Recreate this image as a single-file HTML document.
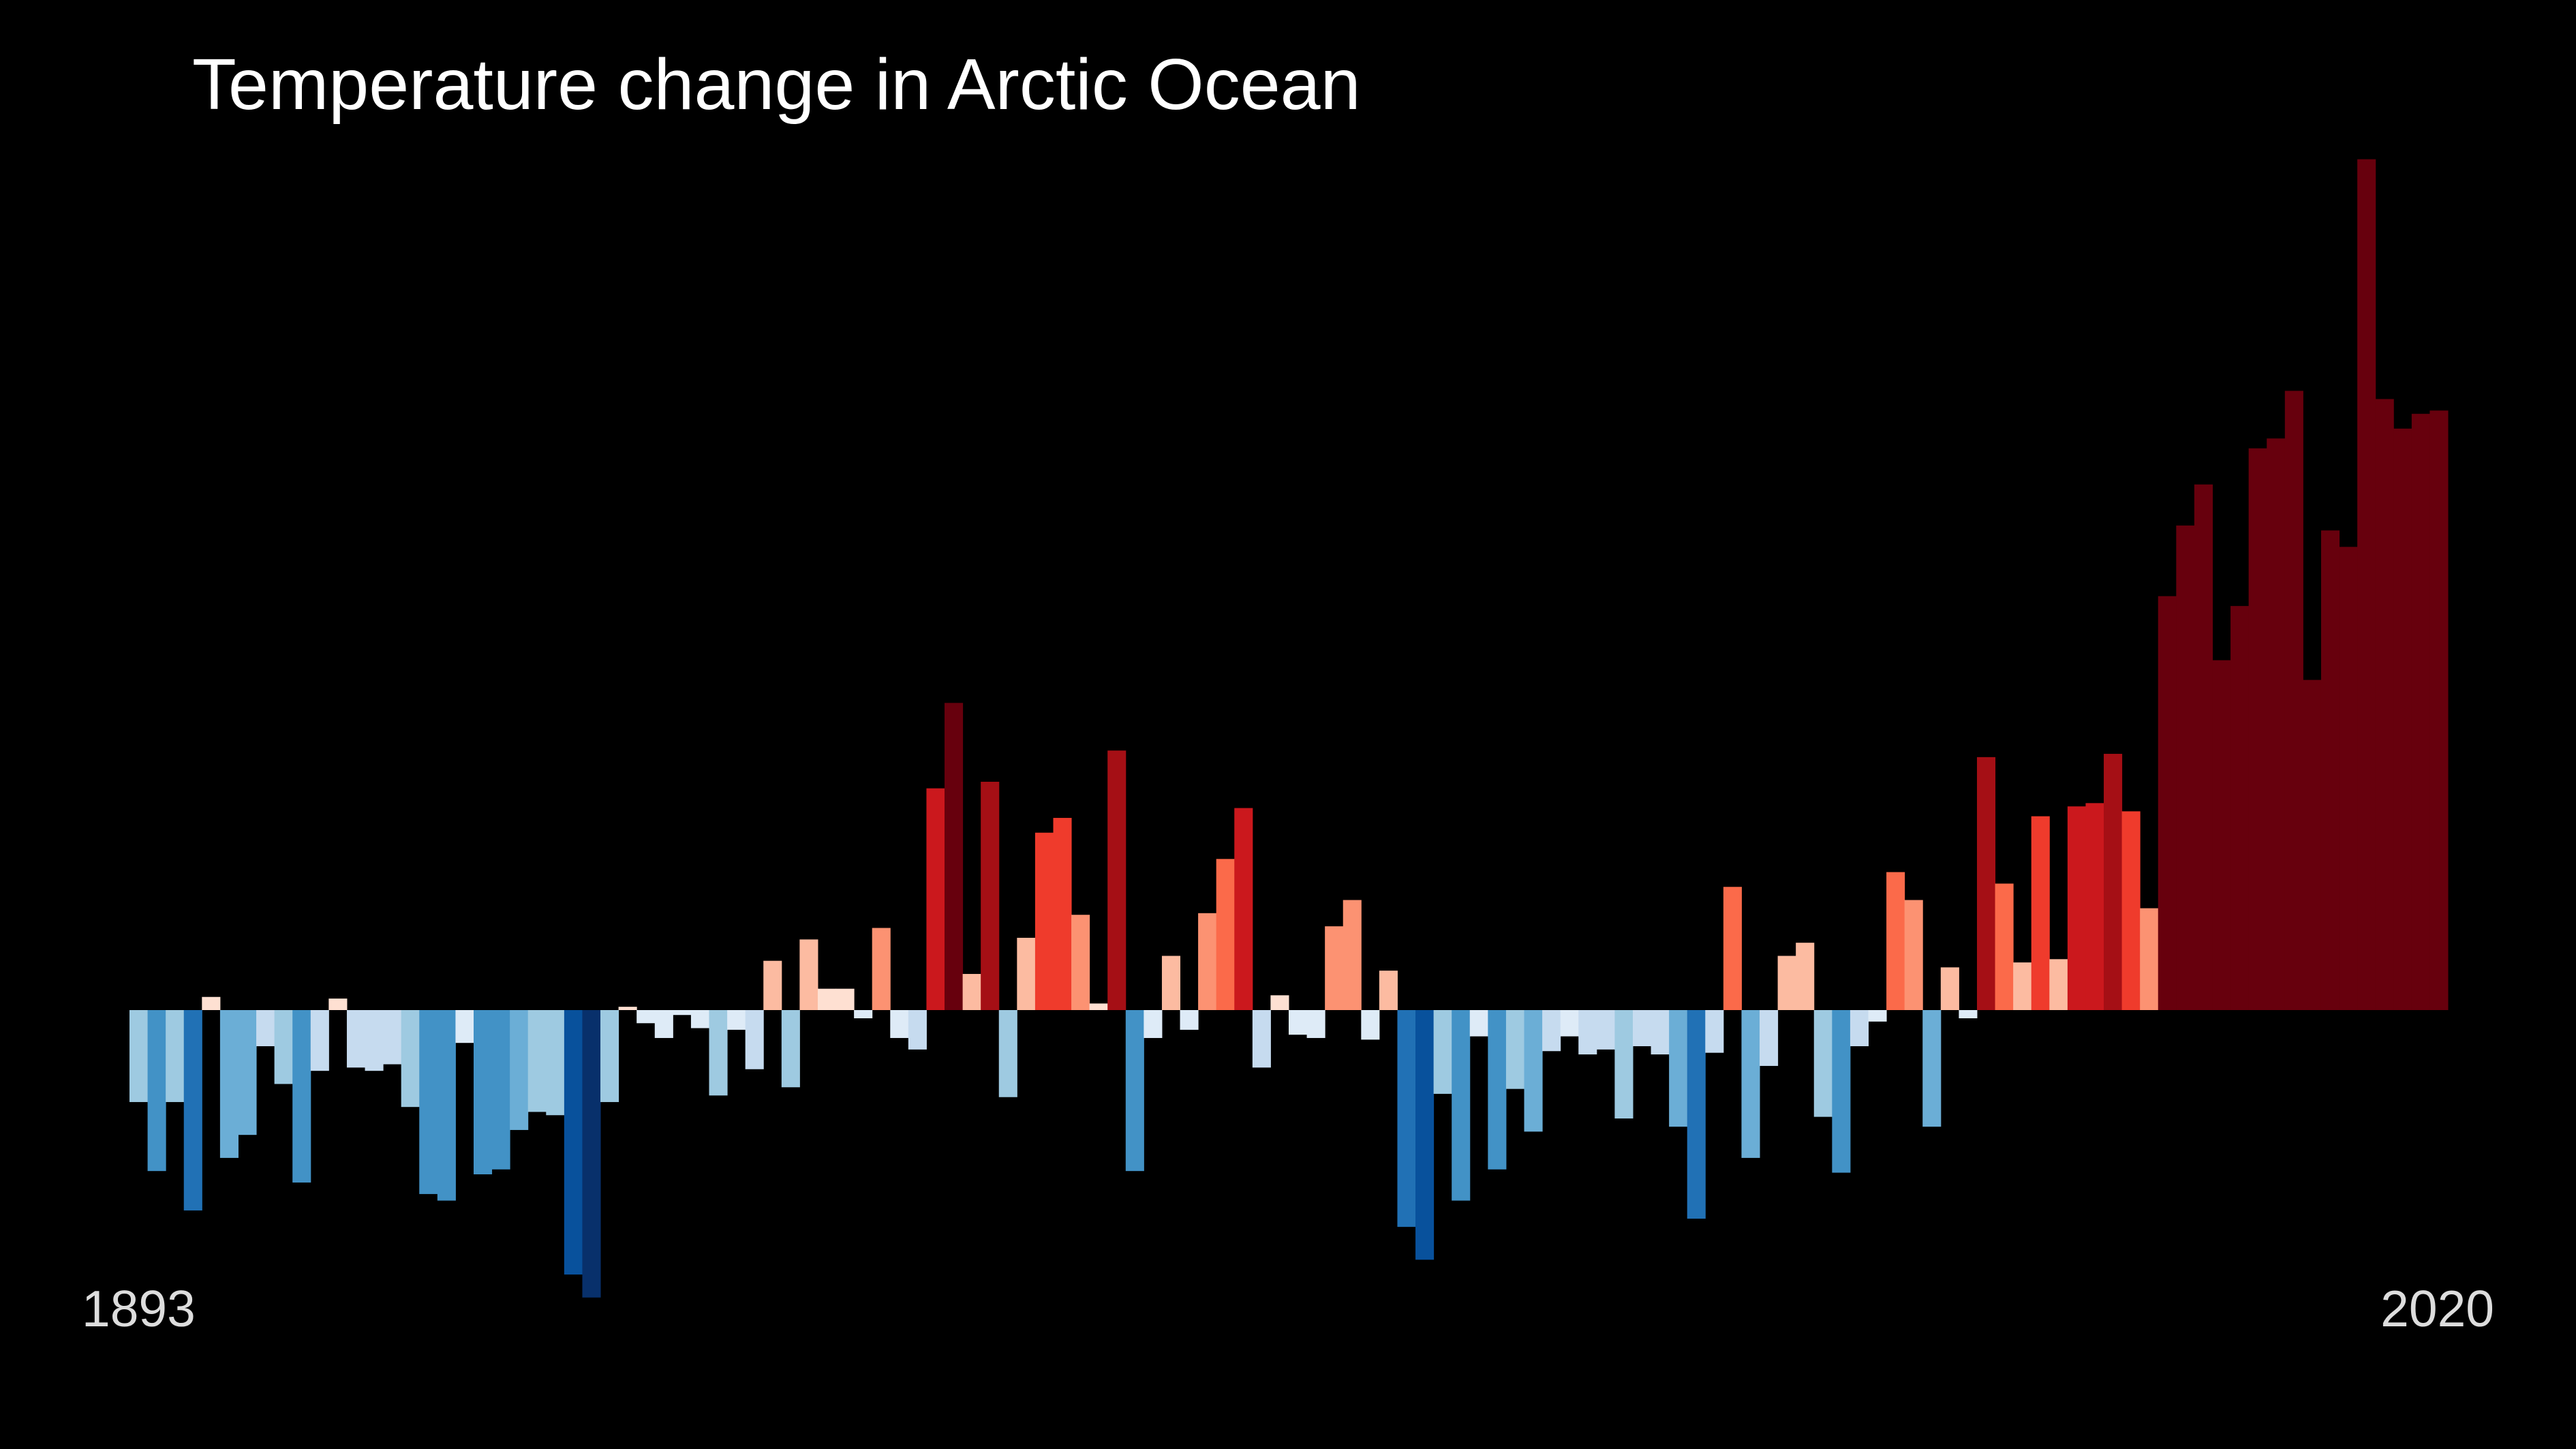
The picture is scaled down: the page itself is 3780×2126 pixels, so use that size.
<!DOCTYPE html>
<html><head><meta charset="utf-8"><style>
html,body{margin:0;padding:0;background:#000;}
svg{display:block;}
text{font-family:"Liberation Sans",sans-serif;}
</style></head><body>
<svg id="chart" width="3780" height="2126" viewBox="0 0 3780 2126" xmlns="http://www.w3.org/2000/svg">
<rect x="0" y="0" width="3780" height="2126" fill="#000"/>
<text x="282" y="160" font-size="106" fill="#fff">Temperature change in Arctic Ocean</text>
<g id="bars"></g>
<text x="120" y="1946" font-size="75" fill="#ddd">1893</text>
<text x="3660" y="1946" font-size="75" fill="#ddd" text-anchor="end">2020</text>
</svg>
<script>
const startYear = 1893;
const endYear = 2020;
const anomalies = [
-0.56,-0.98,-0.56,-1.22,0.08,-0.90,-0.76,-0.22,-0.45,-1.05,
-0.37,0.07,-0.35,-0.37,-0.33,-0.59,-1.12,-1.16,-0.20,-1.00,
-0.97,-0.73,-0.62,-0.64,-1.61,-1.75,-0.56,0.02,-0.08,-0.17,
-0.03,-0.11,-0.52,-0.12,-0.36,0.30,-0.47,0.43,0.13,0.13,
-0.05,0.50,-0.17,-0.24,1.35,1.87,0.22,1.39,-0.53,0.44,
1.08,1.17,0.58,0.04,1.58,-0.98,-0.17,0.33,-0.12,0.59,
0.92,1.23,-0.35,0.09,-0.15,-0.17,0.51,0.67,-0.18,0.24,
-1.32,-1.52,-0.51,-1.16,-0.16,-0.97,-0.48,-0.74,-0.25,-0.16,
-0.27,-0.24,-0.66,-0.22,-0.27,-0.71,-1.27,-0.26,0.75,-0.90,
-0.34,0.33,0.41,-0.65,-0.99,-0.22,-0.07,0.84,0.67,-0.71,
0.26,-0.05,1.54,0.77,0.29,1.18,0.31,1.24,1.26,1.56,
1.21,0.62,2.52,2.95,3.20,2.13,2.46,3.42,3.48,3.77,
2.01,2.92,2.82,5.18,3.72,3.54,3.63,3.65
];
const plotLeft = 190, plotRight = 3592, baseline = 1482, unitPx = 241;
function xScale(i){ return plotLeft + i*(plotRight-plotLeft)/anomalies.length; }
function yScale(v){ return baseline - v*unitPx; }
function colorFor(v){
  if (v >= 1.7) return '#67000d';
  if (v >= 1.38) return '#a50f15';
  if (v >= 1.22) return '#cb181d';
  if (v >= 0.95) return '#ef3b2c';
  if (v >= 0.70) return '#fb6a4a';
  if (v >= 0.47) return '#fc9272';
  if (v >= 0.20) return '#fcbba1';
  if (v >= 0) return '#fee0d2';
  if (v > -0.22) return '#deebf7';
  if (v > -0.42) return '#c6dbef';
  if (v > -0.68) return '#9ecae1';
  if (v > -0.92) return '#6baed6';
  if (v > -1.19) return '#4292c6';
  if (v > -1.45) return '#2171b5';
  if (v > -1.65) return '#08519c';
  return '#08306b';
}
const g = document.getElementById('bars');
const w = (plotRight-plotLeft)/anomalies.length;
anomalies.forEach((v,i)=>{
  const r = document.createElementNS('http://www.w3.org/2000/svg','rect');
  
  
  const y0 = yScale(Math.max(v,0)), y1 = yScale(Math.min(v,0));
  r.setAttribute('x', xScale(i));
  r.setAttribute('y', y0);
  r.setAttribute('width', w+0.5);
  r.setAttribute('height', Math.max(y1-y0,0));
  r.setAttribute('fill', colorFor(v));
  g.appendChild(r);
});
</script>
</body></html>
